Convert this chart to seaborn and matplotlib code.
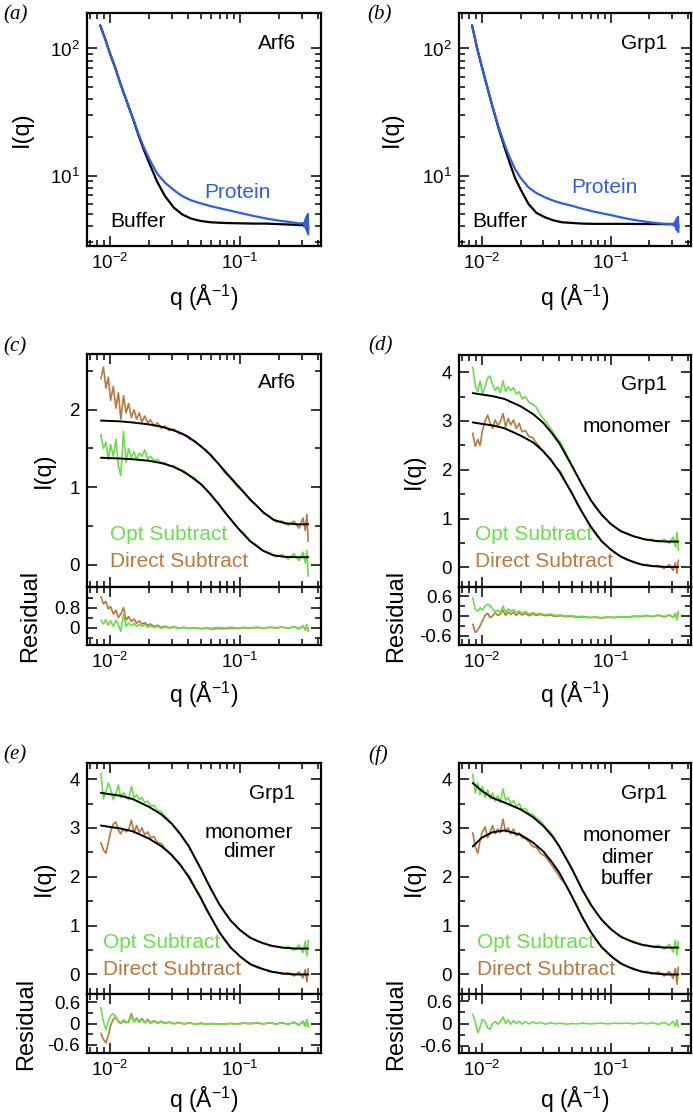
import numpy as np
import matplotlib
matplotlib.use("Agg")
import matplotlib.pyplot as plt
import seaborn as sns
from matplotlib.ticker import (FixedLocator, LogLocator, NullFormatter,
                               LogFormatterSciNotation, MultipleLocator, FuncFormatter)

# ---------------------------------------------------
# data
# ---------------------------------------------------

# top row: raw scattering, protein vs buffer (log-log)
Q_TOP = [0.0084, 0.0092, 0.01, 0.011, 0.012, 0.0135, 0.0152, 0.0165, 0.0181, 0.02,
         0.023, 0.0265, 0.031, 0.036, 0.042, 0.05, 0.06, 0.075, 0.1, 0.13,
         0.16, 0.2, 0.25, 0.29, 0.305, 0.312, 0.318, 0.322, 0.326, 0.33,
         0.333, 0.335]
A_PROTEIN = [152, 118, 91, 70, 53, 38, 27.4, 21.5, 16.9, 13.6,
             10.4, 8.8, 7.7, 6.9, 6.4, 6.05, 5.75, 5.45, 5.1, 4.8,
             4.6, 4.43, 4.3, 4.2, 4.25, 4.05, 4.5, 3.8, 4.8, 3.6,
             5.0, 3.45]
A_BUFFER = [152, 118, 91, 70, 53, 38, 27, 21, 16.2, 12.6,
            9.0, 6.9, 5.6, 4.95, 4.6, 4.4, 4.3, 4.25, 4.22, 4.2,
            4.2, 4.16, 4.12, 4.08, 4.1, 4.0, 4.15, 3.95, 4.2, 3.85,
            4.15, 3.8]
B_PROTEIN = [152, 100, 72, 50, 36, 24, 17, 13.8, 11.3, 9.6,
             8.1, 7.3, 6.75, 6.35, 6.05, 5.8, 5.5, 5.2, 4.9, 4.62,
             4.45, 4.3, 4.2, 4.17, 4.2, 4.05, 4.4, 3.8, 4.6, 3.7,
             4.75, 3.6]
B_BUFFER = [152, 100, 72, 50, 36, 23.5, 16, 12.5, 9.6, 7.8,
            6.0, 5.1, 4.7, 4.45, 4.3, 4.25, 4.2, 4.18, 4.18, 4.18,
            4.17, 4.17, 4.16, 4.15, 4.15, 4.05, 4.25, 4.0, 4.25, 3.95,
            4.2, 3.9]

# subtracted curves (c-f)
Q = [0.0085, 0.0089, 0.0093, 0.0097, 0.0101, 0.0106, 0.0111, 0.0116, 0.0121, 0.0127,
     0.0133, 0.0139, 0.0146, 0.0153, 0.016, 0.0168, 0.0176, 0.0185, 0.0195, 0.0205,
     0.0218, 0.0232, 0.0248, 0.0265, 0.0285, 0.031, 0.034, 0.037, 0.041, 0.045,
     0.05, 0.055, 0.061, 0.068, 0.076, 0.085, 0.095, 0.107, 0.12, 0.135,
     0.152, 0.17, 0.19, 0.21, 0.235, 0.26, 0.285, 0.305, 0.318, 0.327,
     0.335]
Q_FIT = [0.0085, 0.01, 0.012, 0.015, 0.02, 0.025, 0.03, 0.035, 0.04, 0.05,
         0.06, 0.07, 0.085, 0.1, 0.12, 0.15, 0.18, 0.22, 0.27, 0.335]

C_OPT = [1.68, 1.50, 1.58, 1.36, 1.55, 1.40, 1.62, 1.28, 1.15, 1.72,
         1.32, 1.50, 1.38, 1.46, 1.35, 1.44, 1.40, 1.48, 1.36, 1.40,
         1.34, 1.36, 1.31, 1.32, 1.27, 1.28, 1.22, 1.21, 1.15, 1.12,
         1.03, 0.98, 0.87, 0.80, 0.67, 0.59, 0.48, 0.41, 0.30, 0.25,
         0.17, 0.15, 0.10, 0.13, 0.07, 0.14, 0.05, 0.16, 0.02, 0.18,
         -0.15]
C_DIRECT = [2.40, 2.55, 2.28, 2.42, 2.12, 2.30, 2.02, 2.22, 1.88, 2.18,
            1.96, 2.08, 1.90, 2.00, 1.88, 1.96, 1.84, 1.92, 1.83, 1.87,
            1.79, 1.83, 1.76, 1.79, 1.73, 1.75, 1.69, 1.68, 1.62, 1.60,
            1.52, 1.48, 1.38, 1.31, 1.19, 1.11, 1.01, 0.93, 0.83, 0.76,
            0.66, 0.62, 0.55, 0.56, 0.51, 0.56, 0.47, 0.60, 0.44, 0.65,
            0.30]
C_OPT_FIT = [1.38, 1.375, 1.37, 1.36, 1.34, 1.31, 1.27, 1.22, 1.16, 1.04,
             0.90, 0.76, 0.58, 0.44, 0.30, 0.18, 0.12, 0.10, 0.095, 0.095]
C_DIRECT_FIT = [1.86, 1.855, 1.85, 1.835, 1.81, 1.78, 1.74, 1.70, 1.65, 1.53,
                1.41, 1.28, 1.12, 0.99, 0.84, 0.68, 0.58, 0.535, 0.52, 0.52]
C_OPT_RES = [0.30, 0.15, 0.32, 0.10, 0.28, 0.05, 0.30, 0.12, -0.15, 0.55,
             0.05, 0.20, 0.08, 0.18, 0.05, 0.14, 0.06, 0.12, 0.02, 0.08,
             0.00, 0.05, -0.02, 0.03, -0.02, 0.02, -0.03, 0.01, -0.02, 0.00,
             -0.03, 0.00, -0.02, 0.01, -0.01, 0.02, -0.01, 0.01, 0.00, 0.02,
             -0.01, 0.02, -0.02, 0.03, -0.03, 0.05, -0.05, 0.08, -0.10, 0.12,
             -0.15]
C_DIRECT_RES = [1.25, 0.95, 1.05, 0.75, 0.85, 0.55, 0.70, 0.40, 0.55, 0.80,
                0.30, 0.45, 0.25, 0.35, 0.18, 0.28, 0.15, 0.20, 0.10, 0.15,
                0.05, 0.10, 0.02, 0.06, 0.00, 0.04, -0.02, 0.02, -0.03, 0.00,
                -0.04, -0.02, -0.05, -0.03, -0.04, -0.02, -0.03, 0.00, -0.02, 0.01,
                -0.01, 0.02, 0.00, 0.03, -0.02, 0.04, -0.03, 0.06, -0.06, 0.08,
                -0.08]

D_OPT = [4.10, 3.72, 3.60, 3.82, 3.55, 3.70, 3.88, 3.92, 3.75, 3.62,
         3.70, 3.58, 3.82, 3.60, 3.70, 3.62, 3.68, 3.55, 3.60, 3.45,
         3.50, 3.38, 3.34, 3.28, 3.12, 3.00, 2.86, 2.70, 2.55, 2.35,
         2.10, 1.89, 1.66, 1.45, 1.22, 1.09, 0.96, 0.84, 0.75, 0.70,
         0.63, 0.61, 0.56, 0.58, 0.52, 0.58, 0.49, 0.62, 0.42, 0.72,
         0.35]
D_DIRECT = [2.75, 2.48, 2.62, 2.50, 2.80, 3.00, 3.12, 2.95, 2.85, 3.02,
            2.90, 2.98, 3.15, 2.88, 3.05, 2.92, 3.02, 2.85, 2.95, 2.78,
            2.80, 2.68, 2.66, 2.55, 2.45, 2.32, 2.24, 2.08, 1.95, 1.74,
            1.53, 1.29, 1.11, 0.87, 0.69, 0.53, 0.42, 0.30, 0.23, 0.15,
            0.12, 0.06, 0.06, 0.02, 0.04, -0.02, 0.06, -0.06, 0.10, -0.12,
            0.15]
D_OPT_FIT = [3.57, 3.54, 3.51, 3.45, 3.30, 3.14, 2.96, 2.75, 2.54, 2.08,
             1.69, 1.38, 1.08, 0.89, 0.74, 0.64, 0.58, 0.545, 0.53, 0.53]
D_DIRECT_FIT = [2.97, 2.94, 2.91, 2.85, 2.70, 2.56, 2.38, 2.17, 1.96, 1.52,
                1.13, 0.84, 0.54, 0.37, 0.22, 0.11, 0.05, 0.025, 0.01, 0.01]
D_OPT_RES = [0.55, 0.20, 0.15, 0.25, 0.18, 0.30, 0.36, 0.32, 0.22, 0.12,
             0.18, 0.08, 0.30, 0.12, 0.22, 0.14, 0.20, 0.10, 0.16, 0.08,
             0.14, 0.06, 0.10, 0.06, 0.08, 0.04, 0.06, 0.02, 0.03, 0.00,
             0.01, -0.02, -0.01, -0.04, -0.03, -0.05, -0.03, -0.04, -0.02, -0.03,
             0.00, -0.01, 0.02, -0.01, 0.03, -0.02, 0.04, -0.05, 0.08, -0.12,
             0.14]
D_DIRECT_RES = [-0.25, -0.50, -0.42, -0.30, -0.15, 0.02, 0.08, -0.05, 0.00, 0.10,
                0.02, 0.05, 0.18, 0.02, 0.12, 0.05, 0.12, 0.02, 0.10, 0.03,
                0.08, 0.01, 0.06, 0.02, 0.05, 0.01, 0.03, -0.01, 0.01, -0.02,
                -0.01, -0.04, -0.03, -0.05, -0.04, -0.06, -0.04, -0.05, -0.03, -0.04,
                -0.01, -0.02, 0.01, -0.02, 0.02, -0.03, 0.03, -0.04, 0.06, -0.10,
                0.12]

E_OPT = [4.12, 3.60, 3.75, 3.92, 3.80, 3.58, 3.70, 3.88, 3.62, 3.72,
         3.65, 3.58, 3.85, 3.62, 3.68, 3.58, 3.62, 3.52, 3.55, 3.44,
         3.46, 3.36, 3.33, 3.24, 3.16, 3.04, 2.93, 2.77, 2.62, 2.40,
         2.18, 1.92, 1.72, 1.46, 1.26, 1.09, 0.97, 0.84, 0.76, 0.68,
         0.65, 0.58, 0.58, 0.54, 0.57, 0.50, 0.60, 0.45, 0.68, 0.38,
         0.70]
E_DIRECT = [2.70, 2.55, 2.48, 2.70, 2.92, 3.08, 3.12, 2.95, 2.88, 2.98,
            2.92, 2.96, 3.16, 2.90, 3.05, 2.90, 3.00, 2.86, 2.92, 2.80,
            2.82, 2.70, 2.68, 2.58, 2.50, 2.38, 2.29, 2.14, 2.00, 1.78,
            1.58, 1.32, 1.14, 0.89, 0.70, 0.54, 0.43, 0.30, 0.22, 0.14,
            0.11, 0.05, 0.05, 0.01, 0.04, -0.03, 0.05, -0.07, 0.10, -0.15,
            0.12]
E_OPT_FIT = [3.72, 3.69, 3.66, 3.59, 3.43, 3.27, 3.08, 2.86, 2.64, 2.16,
             1.74, 1.42, 1.10, 0.91, 0.75, 0.64, 0.58, 0.545, 0.53, 0.53]
E_DIRECT_FIT = [3.05, 3.02, 2.99, 2.93, 2.78, 2.62, 2.44, 2.23, 2.01, 1.56,
                1.16, 0.85, 0.55, 0.37, 0.21, 0.11, 0.05, 0.015, 0.0, 0.0]
E_OPT_RES = [0.45, 0.05, -0.18, 0.05, 0.22, 0.28, 0.18, 0.08, 0.02, 0.10,
             0.05, 0.02, 0.22, 0.05, 0.12, 0.03, 0.10, 0.02, 0.08, 0.00,
             0.06, 0.00, 0.04, 0.00, 0.03, -0.01, 0.02, -0.01, 0.01, -0.02,
             0.00, -0.02, 0.00, -0.02, -0.01, 0.00, -0.02, 0.01, -0.01, 0.02,
             -0.01, 0.02, -0.02, 0.03, -0.03, 0.04, -0.05, 0.07, -0.09, 0.12,
             -0.10]
E_DIRECT_RES = [-0.28, -0.45, -0.55, -0.35, -0.05, 0.12, 0.18, 0.05, 0.00, 0.08,
                0.02, 0.06, 0.28, 0.05, 0.15, 0.06, 0.14, 0.03, 0.12, 0.02,
                0.08, 0.02, 0.06, 0.01, 0.04, 0.00, 0.03, -0.01, 0.02, -0.02,
                0.01, -0.02, 0.00, -0.02, -0.01, 0.00, -0.01, 0.01, 0.00, 0.01,
                -0.01, 0.02, -0.01, 0.02, -0.02, 0.03, -0.04, 0.05, -0.07, 0.09,
                -0.08]

F_OPT = [4.10, 3.72, 3.92, 3.68, 3.85, 3.62, 3.78, 3.60, 3.72, 3.55,
         3.66, 3.52, 3.80, 3.56, 3.62, 3.50, 3.56, 3.44, 3.50, 3.38,
         3.40, 3.30, 3.28, 3.20, 3.14, 3.02, 2.92, 2.78, 2.56, 2.40,
         2.18, 1.96, 1.72, 1.52, 1.28, 1.14, 1.00, 0.87, 0.79, 0.71,
         0.68, 0.61, 0.61, 0.56, 0.60, 0.52, 0.62, 0.46, 0.70, 0.40,
         0.68]
F_DIRECT = [2.90, 2.62, 2.48, 2.75, 2.92, 3.02, 2.80, 2.92, 3.05, 2.88,
            2.98, 2.90, 3.18, 2.92, 3.00, 2.88, 2.98, 2.84, 2.90, 2.80,
            2.78, 2.72, 2.62, 2.60, 2.48, 2.42, 2.28, 2.14, 1.96, 1.84,
            1.60, 1.40, 1.16, 0.93, 0.72, 0.56, 0.45, 0.32, 0.24, 0.16,
            0.12, 0.06, 0.06, 0.01, 0.05, -0.03, 0.06, -0.08, 0.12, -0.20,
            0.15]
F_OPT_FIT = [3.92, 3.76, 3.62, 3.52, 3.38, 3.22, 3.04, 2.84, 2.62, 2.16,
             1.74, 1.43, 1.12, 0.93, 0.77, 0.66, 0.60, 0.565, 0.55, 0.55]
F_DIRECT_FIT = [2.62, 2.80, 2.91, 2.95, 2.86, 2.70, 2.52, 2.30, 2.08, 1.60,
                1.18, 0.87, 0.56, 0.38, 0.22, 0.11, 0.05, 0.02, 0.0, 0.0]
F_OPT_RES = [0.25, 0.05, -0.25, -0.10, 0.12, 0.05, -0.12, -0.16, 0.00, 0.05,
             -0.02, 0.04, 0.18, 0.00, 0.10, -0.02, 0.08, 0.00, 0.06, -0.02,
             0.05, -0.01, 0.04, 0.00, 0.03, -0.02, 0.02, -0.01, 0.01, -0.02,
             0.00, -0.01, 0.01, -0.01, 0.00, 0.01, -0.01, 0.01, 0.00, 0.01,
             -0.01, 0.02, -0.01, 0.02, -0.02, 0.03, -0.04, 0.06, -0.08, 0.10,
             -0.10]

# ---------------------------------------------------
# style
# ---------------------------------------------------
BLUE = "#2f5ee0"
GREEN = "#6ade4c"
BROWN = "#b9783c"
TICK_FS = 13.5
TEXT_FS = 15
LABEL_FS = 17
XLAB_FS = 16.5
XLIM = (0.00665, 0.42)

sns.set_theme(style="ticks", rc={"text.color": "black", "axes.labelcolor": "black",
                                 "xtick.color": "black", "ytick.color": "black",
                                 "axes.edgecolor": "black"})
plt.rcParams['font.family'] = ['Liberation Sans', 'DejaVu Sans']
plt.rcParams['mathtext.fontset'] = 'custom'
plt.rcParams['mathtext.rm'] = 'Liberation Sans'
plt.rcParams['mathtext.it'] = 'Liberation Sans:italic'

W, H = 693, 1115
fig = plt.figure(figsize=(W / 100, H / 100), dpi=100)


def add_ax(x0, y0, x1, y1):
    # pixel box -> figure fraction
    return fig.add_axes([x0 / W, 1 - y1 / H, (x1 - x0) / W, (y1 - y0) / H])


def line(ax, x, y, color, lw):
    sns.lineplot(x=x, y=y, ax=ax, color=color, lw=lw, estimator=None,
                 sort=False, legend=False)


def frame(ax):
    for s in ax.spines.values():
        s.set_visible(True)
        s.set_linewidth(1.6)
    ax.tick_params(which='both', direction='in', top=True, right=True,
                   width=1.1, labelsize=TICK_FS, pad=5)
    ax.tick_params(which='major', length=7)
    ax.tick_params(which='minor', length=4.5)
    ax.set_xlabel('')
    ax.set_ylabel('')


def log_x(ax, show_labels):
    ax.set_xscale('log')
    ax.set_xlim(XLIM)
    ax.xaxis.set_major_locator(FixedLocator([0.01, 0.1]))
    ax.xaxis.set_minor_locator(LogLocator(base=10, subs=np.arange(2, 10)))
    ax.xaxis.set_major_formatter(LogFormatterSciNotation())
    ax.xaxis.set_minor_formatter(NullFormatter())
    ax.tick_params(axis='x', labelbottom=show_labels, labeltop=False)
    if show_labels:
        ax.set_xlabel('q (Å$^{-1}$)', fontsize=XLAB_FS)


res_fmt = FuncFormatter(lambda v, p: '0' if abs(v) < 1e-9 else f'{v:g}')


def raw_panel(box, protein, buffer, name, prot_xy, buf_xy, ylab_x):
    ax = add_ax(*box)
    line(ax, Q_TOP, buffer, 'black', 1.6)
    line(ax, Q_TOP, protein, BLUE, 1.6)
    frame(ax)
    log_x(ax, True)
    ax.set_yscale('log')
    ax.set_ylim(2.8, 190)
    ax.yaxis.set_major_locator(FixedLocator([10, 100]))
    ax.yaxis.set_minor_locator(LogLocator(base=10, subs=np.arange(2, 10)))
    ax.yaxis.set_major_formatter(LogFormatterSciNotation())
    ax.yaxis.set_minor_formatter(NullFormatter())
    ax.set_ylabel('I(q)', fontsize=LABEL_FS)
    ax.yaxis.set_label_coords(ylab_x, 0.5)
    ax.xaxis.set_label_coords(0.5, -0.16)
    ax.text(name[1], name[2], name[0], transform=ax.transAxes, fontsize=TEXT_FS,
            ha='center', va='center')
    ax.text(*prot_xy, 'Protein', transform=ax.transAxes, fontsize=TEXT_FS,
            ha='center', va='center', color=BLUE)
    ax.text(*buf_xy, 'Buffer', transform=ax.transAxes, fontsize=TEXT_FS,
            ha='center', va='center', color='black')
    return ax


def fit_panel(box_main, box_res, opt, direct, opt_fit, direct_fit, opt_res,
              direct_res, ylim, res_ylim, res_major, res_minor, notes,
              leg_x, ylab_x, rlab_x, xlab_y):
    ax = add_ax(*box_main)
    line(ax, Q, direct, BROWN, 1.2)
    line(ax, Q, opt, GREEN, 1.2)
    line(ax, Q_FIT, direct_fit, 'black', 1.4)
    line(ax, Q_FIT, opt_fit, 'black', 1.4)
    frame(ax)
    log_x(ax, False)
    ax.set_ylim(*ylim)
    ax.yaxis.set_major_locator(MultipleLocator(1))
    ax.yaxis.set_minor_locator(MultipleLocator(0.5))
    ax.set_ylabel('I(q)', fontsize=LABEL_FS)
    ax.yaxis.set_label_coords(ylab_x, 0.5)
    for txt, x, y in notes:
        ax.text(x, y, txt, transform=ax.transAxes, fontsize=TEXT_FS,
                ha='center', va='center')
    ax.text(leg_x, 0.225, 'Opt Subtract', transform=ax.transAxes,
            fontsize=TEXT_FS, ha='left', va='center', color=GREEN)
    ax.text(leg_x, 0.108, 'Direct Subtract', transform=ax.transAxes,
            fontsize=TEXT_FS, ha='left', va='center', color=BROWN)

    rax = add_ax(*box_res)
    if direct_res is not None:
        line(rax, Q, direct_res, BROWN, 1.2)
    line(rax, Q, opt_res, GREEN, 1.2)
    frame(rax)
    log_x(rax, True)
    rax.set_ylim(*res_ylim)
    rax.yaxis.set_major_locator(FixedLocator(res_major))
    rax.yaxis.set_minor_locator(FixedLocator(res_minor))
    rax.yaxis.set_major_formatter(res_fmt)
    rax.set_ylabel('Residual', fontsize=LABEL_FS)
    rax.yaxis.set_label_coords(rlab_x, 0.5)
    rax.xaxis.set_label_coords(0.5, xlab_y)
    return ax, rax


# ---------------------------------------------------
# panels
# ---------------------------------------------------
raw_panel((87, 13, 321, 246), A_PROTEIN, A_BUFFER, ('Arf6', 0.81, 0.871),
          (0.643, 0.23), (0.216, 0.107), -0.23)
raw_panel((459, 13, 691, 246), B_PROTEIN, B_BUFFER, ('Grp1', 0.797, 0.871),
          (0.625, 0.253), (0.178, 0.107), -0.24)

fit_panel((87, 354, 321, 587), (87, 587, 321, 645), C_OPT, C_DIRECT,
          C_OPT_FIT, C_DIRECT_FIT, C_OPT_RES, C_DIRECT_RES,
          (-0.29, 2.72), (-0.69, 1.63), [0, 0.8], [-0.4, 0.4, 1.2],
          [('Arf6', 0.81, 0.876)], 0.098, -0.137, -0.194, -0.6)
fit_panel((459, 355, 691, 587), (459, 587, 691, 645), D_OPT, D_DIRECT,
          D_OPT_FIT, D_DIRECT_FIT, D_OPT_RES, D_DIRECT_RES,
          (-0.40, 4.35), (-0.88, 0.88), [-0.6, 0, 0.6], [-0.3, 0.3],
          [('Grp1', 0.797, 0.871), ('monomer', 0.724, 0.69)],
          0.069, -0.147, -0.224, -0.6)
fit_panel((87, 763, 321, 994), (87, 994, 321, 1053), E_OPT, E_DIRECT,
          E_OPT_FIT, E_DIRECT_FIT, E_OPT_RES, E_DIRECT_RES,
          (-0.40, 4.33), (-0.84, 0.84), [-0.6, 0, 0.6], [-0.3, 0.3],
          [('Grp1', 0.79, 0.87), ('monomer', 0.692, 0.697), ('dimer', 0.692, 0.615)],
          0.068, -0.137, -0.214, -0.54)
fit_panel((459, 763, 691, 994), (459, 994, 691, 1053), F_OPT, F_DIRECT,
          F_OPT_FIT, F_DIRECT_FIT, F_OPT_RES, None,
          (-0.40, 4.33), (-0.80, 0.80), [-0.6, 0, 0.6], [-0.3, 0.3],
          [('Grp1', 0.797, 0.87), ('monomer', 0.724, 0.688), ('dimer', 0.724, 0.593),
           ('buffer', 0.724, 0.502)],
          0.078, -0.147, -0.224, -0.54)

# panel letters
for letter, xpx, ypx in [('(a)', 3, 15), ('(b)', 367, 15), ('(c)', 3, 347),
                         ('(d)', 368, 346), ('(e)', 3, 755), ('(f)', 368, 755)]:
    fig.text(xpx / W, 1 - ypx / H, letter, fontsize=15, ha='left', va='center',
             family='Liberation Serif', style='italic')

fig.savefig('out.png', dpi=100)
